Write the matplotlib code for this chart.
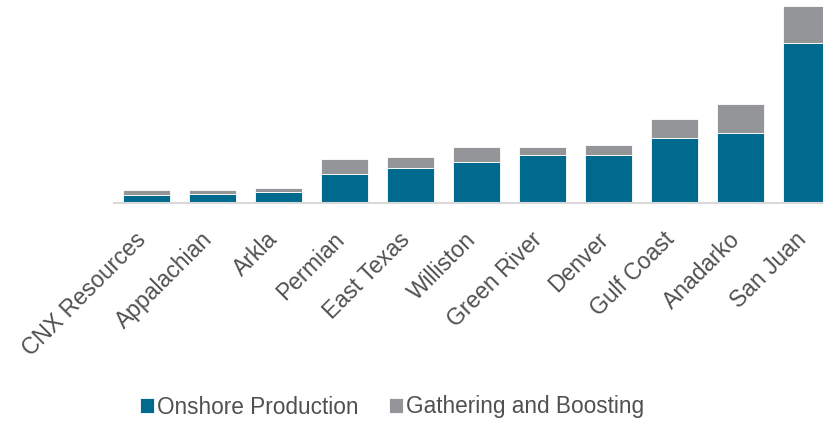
"""Stacked bars: onshore production vs gathering and boosting by basin."""

from matplotlib import pyplot as plt
from matplotlib.transforms import ScaledTranslation
import numpy as np

# Data (arbitrary units).
basins = [
    "CNX Resources", "Appalachian", "Arkla", "Permian", "East Texas",
    "Williston", "Green River", "Denver", "Gulf Coast", "Anadarko", "San Juan",
]
onshore = [8, 9.5, 11.5, 29.5, 35, 41.5, 48, 48, 65.5, 70, 160.5]
gathering = [5, 3.5, 3.5, 14.5, 11, 14.5, 8, 10, 18.5, 29, 36]

BLUE = "#006a8e"
GRAY = "#949599"
TEXT = "#505050"

plt.rcParams["font.family"] = ["Liberation Sans", "DejaVu Sans"]

fig = plt.figure(figsize=(8.23, 4.21), dpi=100)
# axes spans pixel x 114..823, y 0..203 (from top)
ax = fig.add_axes([114 / 823, 1 - 203 / 421, (823 - 114) / 823, 203 / 421])

x = np.arange(len(basins))
width = 0.71
ax.bar(x, onshore, width, color=BLUE, edgecolor="white", linewidth=0.6,
       label="Onshore Production")
ax.bar(x, gathering, width, bottom=onshore, color=GRAY, edgecolor="white",
       linewidth=0.6, label="Gathering and Boosting")

ax.set_xlim(-0.492, 10.25)
ax.set_ylim(0, 203)

for side in ["top", "right", "left"]:
    ax.spines[side].set_visible(False)
ax.spines["bottom"].set_color("#d9d9d9")
ax.spines["bottom"].set_linewidth(1.5)
ax.set_yticks([])
ax.set_xticks(x)
ax.set_xticklabels(basins, rotation=45, ha="right", rotation_mode="anchor",
                   fontsize=16.5, color=TEXT)
ax.tick_params(axis="x", length=0, pad=20)
shift = ScaledTranslation(-12 / 100, 3 / 100, fig.dpi_scale_trans)
for lab in ax.get_xticklabels():
    lab.set_transform(lab.get_transform() + shift)

fig.legend(loc="center", bbox_to_anchor=(392 / 823, 1 - 407 / 421), ncol=2,
           frameon=False, fontsize=16.3, handlelength=0.6, handleheight=0.6,
           handletextpad=0.15, columnspacing=1.35, labelcolor=TEXT)

fig.savefig("out.png", dpi=100)
